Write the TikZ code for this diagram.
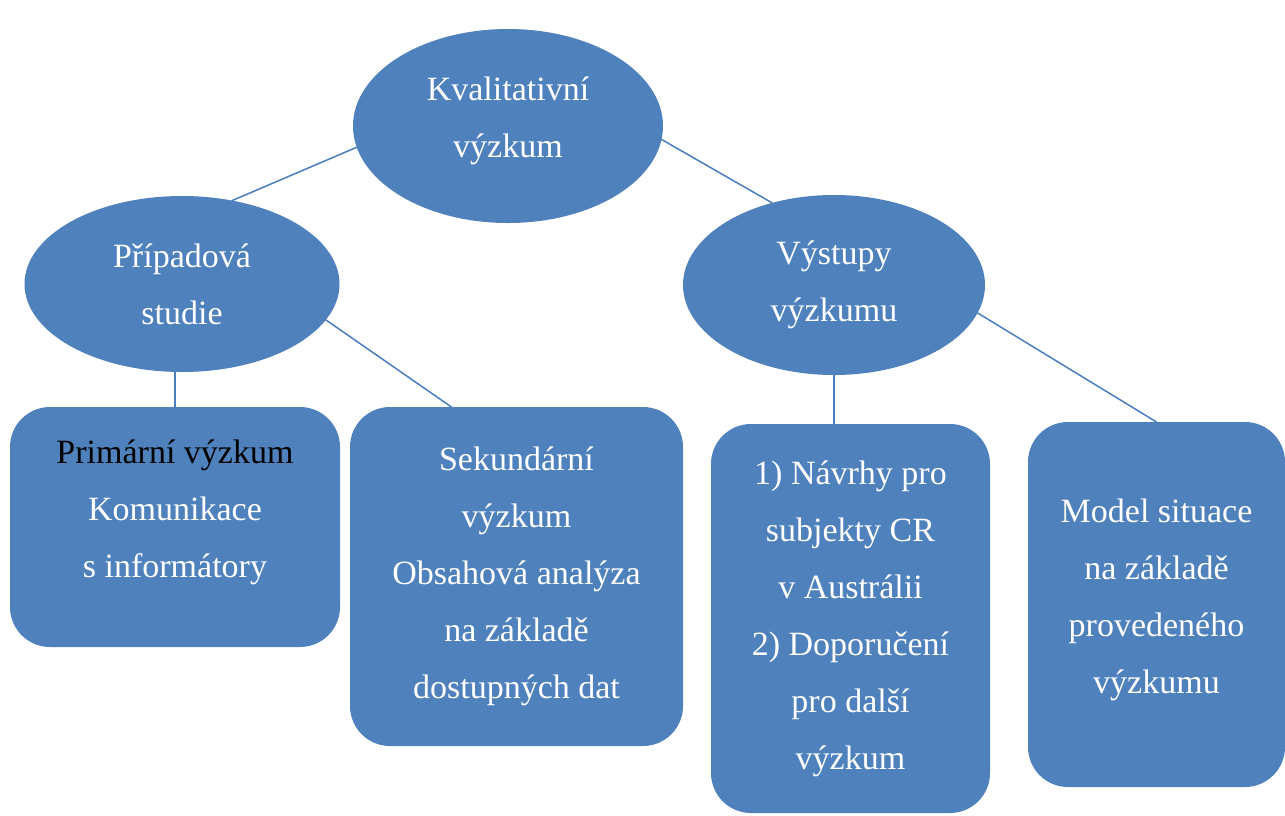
\documentclass[tikz,border=0pt]{standalone}
\usepackage{fontspec}
\setmainfont{Liberation Serif}
\usetikzlibrary{shapes.geometric}
\definecolor{boxblue}{RGB}{79,129,189}
\definecolor{lineblue}{RGB}{74,126,190}
\tikzset{
  topic/.style={ellipse, fill=boxblue, text=white, align=center, inner sep=0pt, outer sep=0pt},
  leaf/.style={rectangle, rounded corners=20pt, fill=boxblue, text=white, align=center, inner sep=0pt, outer sep=0pt},
  link/.style={draw=lineblue, line width=0.75pt}
}
\begin{document}
\begin{tikzpicture}[x=0.5pt, y=-0.5pt, font=\fontsize{17}{28.5}\selectfont, line join=round, line cap=round]
  \path[fill=white] (0,0) rectangle (1285,815);
  \useasboundingbox (0,0) rectangle (1285,815);
  % ellipses
  \node[topic, minimum width=155pt, minimum height=97pt, text depth=9pt] (top) at (508,126) {Kvalitativní\\výzkum};
  \node[topic, minimum width=157.5pt, minimum height=88pt] (caseStudy) at (182,284) {Případová\\studie};
  \node[topic, minimum width=151pt, minimum height=90pt] (outputs) at (834,285) {Výstupy\\výzkumu};
  % boxes
  \node[leaf, minimum width=165pt, minimum height=120pt, text depth=18pt] (primary) at (175,527)
    {{\color{black}Primární výzkum}\\Komunikace\\s informátory};
  \node[leaf, minimum width=166.5pt, minimum height=169.5pt] (secondary) at (516.5,576.5)
    {Sekundární\\výzkum\\Obsahová analýza\\na základě\\dostupných dat};
  \node[leaf, minimum width=139.5pt, minimum height=194.5pt] (proposals) at (850.5,618.5)
    {1) Návrhy pro\\subjekty CR\\v Austrálii\\2) Doporučení\\pro další\\výzkum};
  \node[leaf, minimum width=128.5pt, minimum height=182.5pt, text depth=8pt] (model) at (1156.5,604.5)
    {Model situace\\na základě\\provedeného\\výzkumu};
  % connectors
  \foreach \a/\b in {top.188/caseStudy.59, top.-5/outputs.127, caseStudy.-14/secondary.111, outputs.-11/model.north}
    {\draw[link] (\a) -- (\b);}
  \draw[link] (primary.north) -- (primary.north |- caseStudy.south);
  \draw[link] (outputs.south) -- (outputs.south |- proposals.north);
\end{tikzpicture}
\end{document}
